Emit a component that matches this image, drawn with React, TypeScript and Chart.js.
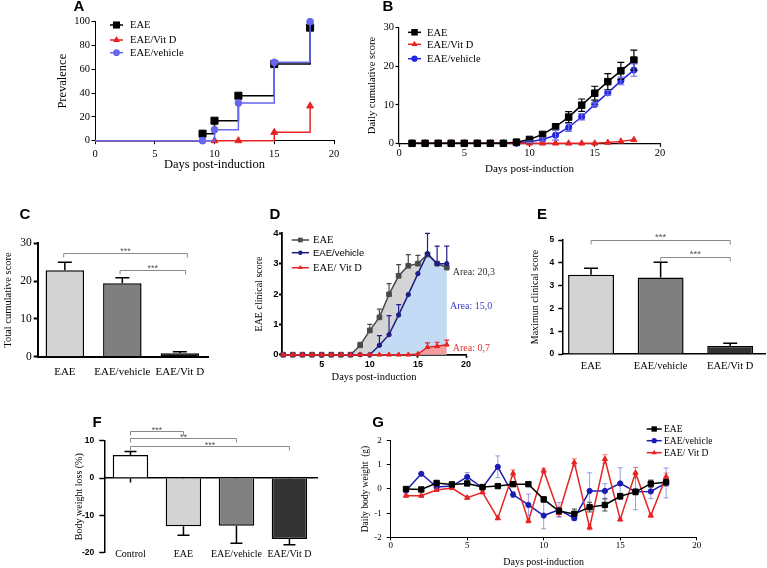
import React, { useEffect, useRef } from 'react';
import { Chart, registerables } from 'chart.js';

Chart.register(...registerables);

const SERIF = '"Liberation Serif", "Times New Roman", Times, serif';
const SANS = '"Liberation Sans", Arial, Helvetica, sans-serif';

// ================= DATA =================
// Panel A – prevalence (%)
const aEaeDays = [0, 9, 10, 12, 15, 18];
const aEaePrev = [0, 5.9, 16.8, 37.8, 64.4, 95];
const aVitDays = [0, 10, 12, 15, 18];
const aVitPrev = [0, 0, 0, 7, 29.2];
const aVehDays = [0, 9, 10, 12, 15, 18];
const aVehPrev = [0, 0, 9.2, 31.7, 65.9, 100];
const aXTicks = [0, 5, 10, 15, 20];
const aYTicks = [0, 20, 40, 60, 80, 100];
const abLegend = ['EAE', 'EAE/Vit D', 'EAE/vehicle'];

// Panel B – daily cumulative score
const days18 = [1, 2, 3, 4, 5, 6, 7, 8, 9, 10, 11, 12, 13, 14, 15, 16, 17, 18];
const bEae = [0, 0, 0, 0, 0, 0, 0, 0, 0.3, 1.0, 2.3, 4.3, 6.8, 9.9, 13.0, 16.0, 18.8, 21.6];
const bEaeErr = [0, 0, 0, 0, 0, 0, 0, 0, 0.1, 0.2, 0.4, 0.7, 1.4, 1.6, 1.8, 2.1, 2.2, 2.6];
const bVit = [0, 0, 0, 0, 0, 0, 0, 0, 0, 0, 0, 0, 0, 0, 0, 0.2, 0.5, 0.9];
const bVeh = [0, 0, 0, 0, 0, 0, 0, 0, 0, 0.4, 1.0, 2.1, 4.1, 6.9, 10.1, 13.1, 16.2, 19.0];
const bVehErr = [0, 0, 0, 0, 0, 0, 0, 0, 0, 0.2, 0.4, 1.3, 1.0, 0.8, 0.4, 0.6, 1.0, 1.6];
const bXTicks = [0, 5, 10, 15, 20];
const bYTicks = [0, 10, 20, 30];

// Panel C – total cumulative score
const cCategories = ['EAE', 'EAE/vehicle', 'EAE/Vit D'];
const cValues = [22.9, 19.4, 0.9];
const cErrors = [2.1, 1.5, 0.4];
const cYTicks = [0, 10, 20, 30];

// Panel D – EAE clinical score
const dLegend = ['EAE', 'EAE/vehicle', 'EAE/ Vit D'];
const dEae = [0, 0, 0, 0, 0, 0, 0, 0, 0.31, 0.8, 1.23, 1.99, 2.6, 2.93, 3.0, 3.3, 3.0, 2.87];
const dEaeErr = [0, 0, 0, 0, 0, 0, 0, 0, 0.1, 0.2, 0.27, 0.35, 0.37, 0.37, 0.27, 0, 0, 0];
const dVeh = [0, 0, 0, 0, 0, 0, 0, 0, 0, 0, 0.31, 0.66, 1.31, 1.98, 2.67, 3.33, 3.0, 3.0];
const dVehErr = [0, 0, 0, 0, 0, 0, 0, 0, 0, 0, 0.32, 0.63, 0.34, 0, 0, 0.67, 0.58, 0.58];
const dVit = [0, 0, 0, 0, 0, 0, 0, 0, 0, 0, 0, 0, 0, 0, 0.02, 0.25, 0.28, 0.33];
const dVitErr = [0, 0, 0, 0, 0, 0, 0, 0, 0, 0, 0, 0, 0, 0, 0, 0.14, 0.13, 0.15];
const dXTicks = [5, 10, 15, 20];
const dYTicks = [0, 1, 2, 3, 4];
const dAreas = ['Area: 20,3', 'Area: 15,0', 'Area: 0,7'];

// Panel E – maximum clinical score
const eValues = [3.48, 3.35, 0.35];
const eErrors = [0.28, 0.67, 0.12];
const eYTicks = [0, 1, 2, 3, 4, 5];

// Panel F – body weight loss (%)
const fCategories = ['Control', 'EAE', 'EAE/vehicle', 'EAE/Vit D'];
const fValues = [6.2, -12.9, -12.8, -16.3];
const fErrors = [0.9, 2.4, 4.7, 1.6];
const fYTicks = [-20, -10, 0, 10];

// Panel G – daily body weight (g)
const gEae = [0.0, -0.02, 0.25, 0.19, 0.23, 0.08, 0.12, 0.2, 0.2, -0.43, -0.91, -1.03, -0.75, -0.66, -0.3, -0.12, 0.22, 0.28];
const gEaeErr = [0.05, 0.05, 0.08, 0.06, 0.06, 0.05, 0.05, 0.06, 0.06, 0.1, 0.12, 0.2, 0.2, 0.25, 0.12, 0.12, 0.15, 0.15];
const gVeh = [-0.07, 0.63, 0.08, 0.12, 0.5, 0.05, 0.92, -0.23, -0.66, -1.1, -0.86, -1.21, -0.08, -0.08, 0.23, -0.11, -0.1, 0.25];
const gVehErr = [0.05, 0.05, 0.05, 0.05, 0.18, 0.08, 0.45, 0.12, 0.45, 0.55, 0.3, 0.1, 0.75, 0.3, 0.65, 0.75, 0.3, 0.62];
const gVit = [-0.28, -0.28, -0.04, 0.04, -0.36, -0.14, -1.21, 0.65, -1.32, 0.76, -1.0, 1.1, -1.59, 1.24, -1.26, 0.67, -1.1, 0.51];
const gVitErr = [0.04, 0.04, 0.04, 0.04, 0.06, 0.05, 0.06, 0.14, 0.08, 0.1, 0.15, 0.15, 0.1, 0.18, 0.06, 0.22, 0.06, 0.15];
const gXTicks = [0, 5, 10, 15, 20];
const gYTicks = [-2, -1, 0, 1, 2];

// significance labels
const sigC = ['***', '***'];
const sigE = ['***', '***'];
const sigF = ['***', '**', '***'];

// ================= HELPERS =================
type Box = { x: number; y: number; w: number; h: number };
type Plot = { l: number; t: number; r: number; b: number };

const pts = (xs: number[], ys: number[]) => xs.map((x, i) => ({ x, y: ys[i] }));
const idx = (arr: any[]) => arr.map((_, i) => i + 1);

function fits(box: Box, plot: Plot) {
  return {
    pad: { left: 0, top: plot.t - box.y, right: box.x + box.w - plot.r, bottom: 0 },
    fy: (s: any) => { s.width = plot.l - box.x; s.paddingTop = 0; s.paddingBottom = 0; },
    fx: (s: any) => { s.height = box.y + box.h - plot.b; s.paddingLeft = 0; s.paddingRight = 0; },
    f0: (s: any) => { s.paddingLeft = 0; s.paddingRight = 0; s.paddingTop = 0; s.paddingBottom = 0; },
  };
}

function axis(spec: any, fit: any) {
  return {
    type: 'linear',
    position: spec.position,
    min: spec.min,
    max: spec.max,
    offset: false,
    afterFit: fit,
    afterBuildTicks: (s: any) => { s.ticks = spec.ticks.map((value: number) => ({ value })); },
    grid: {
      display: true, offset: false, drawOnChartArea: false,
      drawTicks: spec.tickLen > 0, tickLength: spec.tickLen,
      tickColor: '#000', tickWidth: spec.bw,
    },
    border: { display: spec.border !== false, color: '#000', width: spec.bw },
    ticks: {
      display: spec.showLabels !== false,
      padding: spec.pad, color: '#000', autoSkip: false, maxRotation: 0, minRotation: 0,
      font: { family: spec.family, size: spec.size, weight: spec.bold ? 'bold' : 'normal' },
      callback: (v: any) => (spec.labels ? (spec.labels[Math.round(v) - 1] ?? '') : String(v)),
    },
    title: spec.title
      ? { display: true, text: spec.title, color: '#000', padding: 0, font: { family: SERIF, size: spec.titleSize } }
      : { display: false },
  };
}

function drawMarker(ctx: any, style: string, x: number, y: number, r: number) {
  ctx.beginPath();
  if (style === 'rect') {
    const s = r * Math.SQRT1_2;
    ctx.rect(x - s, y - s, 2 * s, 2 * s);
  } else if (style === 'triangle') {
    let a = 0;
    ctx.moveTo(x + Math.sin(a) * r, y - Math.cos(a) * r);
    a += (2 * Math.PI) / 3;
    ctx.lineTo(x + Math.sin(a) * r, y - Math.cos(a) * r);
    a += (2 * Math.PI) / 3;
    ctx.lineTo(x + Math.sin(a) * r, y - Math.cos(a) * r);
    ctx.closePath();
  } else {
    ctx.arc(x, y, r, 0, Math.PI * 2);
  }
  ctx.fill();
}

function drawErrors(chart: any) {
  const ctx = chart.ctx;
  chart.data.datasets.forEach((ds: any, di: number) => {
    if (!ds.errUp && !ds.errDown) return;
    const meta = chart.getDatasetMeta(di);
    const ys = chart.scales[meta.yAxisID];
    ctx.save();
    ctx.strokeStyle = ds.errColor || '#000';
    ctx.lineWidth = ds.errWidth || 1;
    const cap = (ds.errCap || 6) / 2;
    meta.data.forEach((el: any, i: number) => {
      const raw = ds.data[i];
      const v = typeof raw === 'number' ? raw : raw.y;
      const x = el.x;
      const y0 = ys.getPixelForValue(v);
      const parts = [[ds.errUp, 1], [ds.errDown, -1]];
      parts.forEach((p: any) => {
        const e = p[0] ? p[0][i] : 0;
        if (!e) return;
        const y1 = ys.getPixelForValue(v + p[1] * e);
        ctx.beginPath();
        ctx.moveTo(x, y0);
        ctx.lineTo(x, y1);
        ctx.moveTo(x - cap, y1);
        ctx.lineTo(x + cap, y1);
        ctx.stroke();
      });
    });
    ctx.restore();
  });
}

function decor(cfg: any) {
  return {
    id: 'decor',
    beforeDatasetsDraw(chart: any) { if (cfg.errBehind) drawErrors(chart); },
    afterDatasetsDraw(chart: any) { if (!cfg.errBehind) drawErrors(chart); },
    afterDraw(chart: any) {
      const ctx = chart.ctx;
      const ox = cfg.box.x;
      const oy = cfg.box.y;
      ctx.save();
      // panel letter
      ctx.fillStyle = '#000';
      ctx.font = `bold 15px ${SANS}`;
      ctx.textAlign = 'center';
      ctx.textBaseline = 'middle';
      ctx.fillText(cfg.letter.text, cfg.letter.x - ox, cfg.letter.y - oy);
      // legend
      if (cfg.legend) {
        const L = cfg.legend;
        L.items.forEach((it: any, i: number) => {
          const y = L.ys[i] - oy;
          ctx.strokeStyle = it.color;
          ctx.fillStyle = it.color;
          ctx.lineWidth = L.lw;
          ctx.beginPath();
          ctx.moveTo(L.x1 - ox, y);
          ctx.lineTo(L.x2 - ox, y);
          ctx.stroke();
          drawMarker(ctx, it.style, (L.x1 + L.x2) / 2 - ox, y, it.r);
          ctx.fillStyle = it.textColor || '#000';
          ctx.font = it.font;
          ctx.textAlign = 'left';
          ctx.textBaseline = 'middle';
          ctx.fillText(it.text, L.tx - ox, y + 0.5);
        });
      }
      // significance brackets
      if (cfg.brackets) {
        const xs = chart.scales.x;
        const ys = chart.scales.y;
        cfg.brackets.forEach((b: any) => {
          const x1 = xs.getPixelForValue(b.from);
          const x2 = xs.getPixelForValue(b.to);
          const y = Math.round(ys.getPixelForValue(b.y)) + 0.5;
          ctx.strokeStyle = '#8a8a8a';
          ctx.lineWidth = 1;
          ctx.beginPath();
          ctx.moveTo(x1, y + 4);
          ctx.lineTo(x1, y);
          ctx.lineTo(x2, y);
          ctx.lineTo(x2, y + 4);
          ctx.stroke();
          ctx.fillStyle = '#555';
          ctx.font = `${cfg.sigSize}px ${SANS}`;
          ctx.textAlign = 'center';
          ctx.textBaseline = 'alphabetic';
          ctx.fillText(b.label, (x1 + x2) / 2, y - cfg.sigDy + cfg.sigSize * 0.58);
        });
      }
      // free texts
      if (cfg.texts) {
        cfg.texts.forEach((t: any) => {
          ctx.fillStyle = t.color;
          ctx.font = t.font;
          ctx.textAlign = 'left';
          ctx.textBaseline = 'middle';
          ctx.fillText(t.text, t.x - ox, t.y - oy);
        });
      }
      ctx.restore();
    },
  };
}

function lineDs(label: string, xs: number[], ys: number[], color: string, style: string, r: number, extra: any = {}) {
  return {
    label,
    data: pts(xs, ys),
    borderColor: color,
    backgroundColor: color,
    pointBackgroundColor: color,
    pointBorderColor: color,
    pointBorderWidth: 1,
    borderWidth: 1.5,
    pointStyle: style,
    pointRadius: r,
    clip: false,
    fill: false,
    ...extra,
  };
}

function baseOptions(pad: any, scales: any, extraPlugins: any = {}) {
  return {
    responsive: false,
    animation: false,
    events: [],
    layout: { padding: pad },
    plugins: { legend: { display: false }, tooltip: { enabled: false }, ...extraPlugins },
    scales,
  };
}

// ================= PANELS =================
const RED = '#e52424';

const aBox: Box = { x: 55, y: 0, w: 315, h: 172 };
const aPlot: Plot = { l: 95, t: 21.7, r: 334, b: 140.7 };
function makeA() {
  const f = fits(aBox, aPlot);
  const first0 = (r: number) => (c: any) => (c.dataIndex === 0 ? 0 : r);
  const VEH = '#6666ee';
  return {
    type: 'line',
    data: {
      datasets: [
        lineDs(abLegend[2], aVehDays, aVehPrev, VEH, 'circle', 0, { stepped: 'before', pointRadius: first0(3.4) }),
        lineDs(abLegend[1], aVitDays, aVitPrev, RED, 'triangle', 0, { stepped: 'before', pointRadius: first0(4) }),
        lineDs(abLegend[0], aEaeDays, aEaePrev, '#000', 'rect', 0, { stepped: 'before', pointRadius: first0(5) }),
      ],
    },
    options: baseOptions(f.pad, {
      x: axis({ position: 'bottom', min: 0, max: 20, ticks: aXTicks, family: SERIF, size: 10.5, tickLen: 3.5, pad: 3.5, bw: 1, title: 'Days post-induction', titleSize: 12.5 }, f.fx),
      y: axis({ position: 'left', min: 0, max: 100, ticks: aYTicks, family: SERIF, size: 10.5, tickLen: 3.5, pad: 1.5, bw: 1, title: 'Prevalence', titleSize: 12.5 }, f.fy),
    }),
    plugins: [decor({
      box: aBox,
      letter: { text: 'A', x: 79, y: 7 },
      legend: {
        x1: 110, x2: 123, tx: 130, ys: [25, 40, 52.7], lw: 1.5,
        items: [
          { text: abLegend[0], color: '#000', style: 'rect', r: 5, font: `10.5px ${SERIF}` },
          { text: abLegend[1], color: RED, style: 'triangle', r: 4, font: `10.5px ${SERIF}` },
          { text: abLegend[2], color: VEH, style: 'circle', r: 3.4, font: `10.5px ${SERIF}` },
        ],
      },
    })],
  };
}

const bBox: Box = { x: 366, y: 0, w: 334, h: 176 };
const bPlot: Plot = { l: 399, t: 27.7, r: 660, b: 143.3 };
function makeB() {
  const f = fits(bBox, bPlot);
  const VEH = '#2424e0';
  return {
    type: 'line',
    data: {
      datasets: [
        lineDs(abLegend[0], days18, bEae, '#000', 'rect', 4.6, { errUp: bEaeErr, errDown: bEaeErr, errColor: '#000', errWidth: 1.2, errCap: 7 }),
        lineDs(abLegend[1], days18, bVit, RED, 'triangle', 3.5),
        lineDs(abLegend[2], days18, bVeh, VEH, 'circle', 3.1, { errUp: bVehErr, errDown: bVehErr, errColor: '#6f6fe6', errWidth: 1.2, errCap: 7 }),
      ],
    },
    options: baseOptions(f.pad, {
      x: axis({ position: 'bottom', min: 0, max: 20, ticks: bXTicks, family: SERIF, size: 10.5, tickLen: 3.5, pad: 0.5, bw: 1.2, title: 'Days post-induction', titleSize: 11 }, f.fx),
      y: axis({ position: 'left', min: 0, max: 30, ticks: bYTicks, family: SERIF, size: 10.5, tickLen: 3.5, pad: 1.5, bw: 1.2, title: 'Daily cumulative score', titleSize: 10.5 }, f.fy),
    }),
    plugins: [decor({
      box: bBox,
      letter: { text: 'B', x: 388, y: 7 },
      legend: {
        x1: 408, x2: 421, tx: 427, ys: [32.3, 44.3, 58.7], lw: 1.5,
        items: [
          { text: abLegend[0], color: '#000', style: 'rect', r: 4.6, font: `10.5px ${SERIF}` },
          { text: abLegend[1], color: RED, style: 'triangle', r: 3.5, font: `10.5px ${SERIF}` },
          { text: abLegend[2], color: VEH, style: 'circle', r: 3.1, font: `10.5px ${SERIF}` },
        ],
      },
    })],
  };
}

const cBox: Box = { x: 2, y: 200, w: 228, h: 185 };
const cPlot: Plot = { l: 38, t: 243.3, r: 208, b: 356.7 };
function makeC() {
  const f = fits(cBox, cPlot);
  return {
    type: 'bar',
    data: {
      datasets: [{
        label: 'Total cumulative score',
        data: pts(idx(cCategories), cValues),
        backgroundColor: ['#d3d3d3', '#7f7f7f', '#111111'],
        borderColor: '#000', borderWidth: 1.5,
        barPercentage: 0.67, categoryPercentage: 1,
        errUp: cErrors, errColor: '#000', errWidth: 1.5, errCap: 14,
      }],
    },
    options: baseOptions(f.pad, {
      x: axis({ position: 'bottom', min: 0.533, max: 3.49, ticks: [1, 2, 3], labels: cCategories, family: SERIF, size: 11, tickLen: 0, pad: 8.5, bw: 2 }, f.fx),
      y: axis({ position: 'left', min: 0, max: 30, ticks: cYTicks, family: SERIF, size: 11.5, tickLen: 4.3, pad: 2, bw: 2, title: 'Total cumulative score', titleSize: 10.5 }, f.fy),
    }),
    plugins: [decor({
      box: cBox,
      letter: { text: 'C', x: 25, y: 215 },
      brackets: [
        { from: 0.98, to: 3.13, y: 27.4, label: sigC[0] },
        { from: 1.96, to: 3.1, y: 22.9, label: sigC[1] },
      ],
      sigSize: 9, sigDy: 4.5,
    })],
  };
}

const dBox: Box = { x: 253, y: 200, w: 257, h: 184 };
const dPlot: Plot = { l: 282, t: 233.3, r: 466, b: 354.7 };
function makeD() {
  const f = fits(dBox, dPlot);
  const EAE = '#4a4a4a';
  const VEH = '#1e1e86';
  return {
    type: 'line',
    data: {
      datasets: [
        lineDs(dLegend[2], days18, dVit, RED, 'triangle', 2.8, { fill: 'origin', backgroundColor: '#f59c9c', errUp: dVitErr, errColor: RED, errWidth: 1.2, errCap: 5 }),
        lineDs(dLegend[1], days18, dVeh, VEH, 'circle', 2.2, { fill: 'origin', backgroundColor: '#c4dbf5', errUp: dVehErr, errColor: VEH, errWidth: 1.2, errCap: 5 }),
        lineDs(dLegend[0], days18, dEae, EAE, 'rect', 3.3, { fill: 'origin', backgroundColor: '#d4d4d4', errUp: dEaeErr, errColor: EAE, errWidth: 1.2, errCap: 5 }),
      ],
    },
    options: baseOptions(f.pad, {
      x: axis({ position: 'bottom', min: 0.875, max: 20, ticks: dXTicks, family: SANS, bold: true, size: 9, tickLen: 3, pad: 1, bw: 1.8, title: 'Days post-induction', titleSize: 10.5 }, f.fx),
      y: axis({ position: 'left', min: 0, max: 4, ticks: dYTicks, family: SANS, bold: true, size: 9.5, tickLen: 3, pad: 0.5, bw: 1.8, title: 'EAE clinical score', titleSize: 10 }, f.fy),
    }, { filler: { drawTime: 'beforeDatasetsDraw' } }),
    plugins: [decor({
      box: dBox,
      letter: { text: 'D', x: 275, y: 215 },
      legend: {
        x1: 291.7, x2: 309, tx: 313, ys: [240, 252.7, 267.7], lw: 1.5,
        items: [
          { text: dLegend[0], color: EAE, style: 'rect', r: 3.3, font: `10.5px ${SERIF}` },
          { text: dLegend[1], color: VEH, style: 'circle', r: 2.2, font: `9.5px ${SANS}` },
          { text: dLegend[2], color: RED, style: 'triangle', r: 2.8, font: `10.5px ${SERIF}` },
        ],
      },
      texts: [
        { text: dAreas[0], x: 452.7, y: 272, color: '#333', font: `10px ${SERIF}` },
        { text: dAreas[1], x: 450, y: 306.7, color: '#3a3ac8', font: `10px ${SERIF}` },
        { text: dAreas[2], x: 452.7, y: 348, color: '#e03030', font: `10px ${SERIF}` },
      ],
    })],
  };
}

const eBox: Box = { x: 529, y: 200, w: 238, h: 185 };
const ePlot: Plot = { l: 562.3, t: 240, r: 765, b: 354 };
function makeE() {
  const f = fits(eBox, ePlot);
  return {
    type: 'bar',
    data: {
      datasets: [{
        label: 'Maximun clinical score',
        data: pts(idx(cCategories), eValues),
        backgroundColor: ['#d3d3d3', '#7f7f7f', '#333333'],
        borderColor: '#000', borderWidth: 1.5,
        barPercentage: 0.66, categoryPercentage: 1,
        errUp: eErrors, errColor: '#000', errWidth: 1.5, errCap: 14,
      }],
    },
    options: baseOptions(f.pad, {
      x: axis({ position: 'bottom', min: 0.587, max: 3.5, ticks: [1, 2, 3], labels: cCategories, family: SERIF, size: 10.5, tickLen: 0, pad: 5.5, bw: 1.5 }, f.fx),
      y: axis({ position: 'left', min: 0, max: 5, ticks: eYTicks, family: SANS, bold: true, size: 8.5, tickLen: 4, pad: 4, bw: 1.5, title: 'Maximun clinical score', titleSize: 10 }, f.fy),
    }),
    plugins: [decor({
      box: eBox,
      letter: { text: 'E', x: 542, y: 215 },
      brackets: [
        { from: 1, to: 3, y: 5.0, label: sigE[0] },
        { from: 2, to: 3, y: 4.24, label: sigE[1] },
      ],
      sigSize: 9.5, sigDy: 6.5,
    })],
  };
}

const fBox: Box = { x: 73, y: 400, w: 257, h: 168 };
const fPlot: Plot = { l: 104.3, t: 440.7, r: 317, b: 552.7 };
function makeF() {
  const f = fits(fBox, fPlot);
  const pad = { ...f.pad, bottom: fBox.y + fBox.h - fPlot.b };
  return {
    type: 'bar',
    data: {
      datasets: [{
        label: 'Body weight loss (%)',
        xAxisID: 'x',
        yAxisID: 'y',
        data: pts(idx(fCategories), fValues),
        backgroundColor: ['#ffffff', '#d3d3d3', '#808080', '#333333'],
        borderColor: '#000', borderWidth: 1.5,
        barPercentage: 0.67, categoryPercentage: 1,
        errUp: fValues.map((v, i) => (v >= 0 ? fErrors[i] : 0)),
        errDown: fValues.map((v, i) => (v < 0 ? fErrors[i] : 0)),
        errColor: '#000', errWidth: 1.5, errCap: 12,
      }],
    },
    options: baseOptions(pad, {
      x: axis({ position: { y: 0 }, min: 0.506, max: 4.52, ticks: [1, 2, 3, 4], showLabels: false, family: SERIF, size: 10, tickLen: 4, pad: 0, bw: 1.5 }, f.f0),
      x2: axis({ position: { y: -20 }, min: 0.506, max: 4.52, ticks: [1, 2, 3, 4], labels: fCategories, border: false, family: SERIF, size: 10, tickLen: 0, pad: -4.7, bw: 1 }, f.f0),
      y: axis({ position: 'left', min: -20, max: 10, ticks: fYTicks, family: SANS, bold: true, size: 8.5, tickLen: 5, pad: 5, bw: 1.5, title: 'Body weight loss (%)', titleSize: 10 }, f.fy),
    }),
    plugins: [decor({
      box: fBox,
      letter: { text: 'F', x: 97, y: 423 },
      brackets: [
        { from: 1, to: 2, y: 12.7, label: sigF[0] },
        { from: 1, to: 3, y: 10.6, label: sigF[1] },
        { from: 1, to: 4, y: 8.6, label: sigF[2] },
      ],
      sigSize: 9, sigDy: 4,
    })],
  };
}

const gBox: Box = { x: 360, y: 410, w: 407, h: 158 };
const gPlot: Plot = { l: 390.7, t: 440.7, r: 696.7, b: 537.3 };
function makeG() {
  const f = fits(gBox, gPlot);
  const VEH = '#1c1cb4';
  return {
    type: 'line',
    data: {
      datasets: [
        lineDs(dLegend[0], days18, gEae, '#000', 'rect', 3.8, { errUp: gEaeErr, errDown: gEaeErr, errColor: '#444', errWidth: 1, errCap: 5 }),
        lineDs(dLegend[2], days18, gVit, RED, 'triangle', 3, { errUp: gVitErr, errDown: gVitErr, errColor: 'rgba(229,36,36,0.6)', errWidth: 1, errCap: 5 }),
        lineDs(dLegend[1], days18, gVeh, VEH, 'circle', 2.6, { errUp: gVehErr, errDown: gVehErr, errColor: 'rgba(60,60,200,0.5)', errWidth: 1, errCap: 5 }),
      ],
    },
    options: baseOptions(f.pad, {
      x: axis({ position: 'bottom', min: 0, max: 20, ticks: gXTicks, family: SERIF, size: 9, tickLen: 3, pad: 0, bw: 1, title: 'Days post-induction', titleSize: 10 }, f.fx),
      y: axis({ position: 'left', min: -2, max: 2, ticks: gYTicks, family: SERIF, size: 9, tickLen: 4, pad: 5, bw: 1, title: 'Daily body weight  (g)', titleSize: 9.5 }, f.fy),
    }),
    plugins: [decor({
      box: gBox,
      errBehind: true,
      letter: { text: 'G', x: 378, y: 423 },
      legend: {
        x1: 646.7, x2: 661.7, tx: 664, ys: [429, 440.7, 452.7], lw: 1.5,
        items: [
          { text: dLegend[0], color: '#000', style: 'rect', r: 3.8, font: `9.5px ${SERIF}` },
          { text: dLegend[1], color: VEH, style: 'circle', r: 2.6, font: `9.5px ${SERIF}` },
          { text: dLegend[2], color: RED, style: 'triangle', r: 3, font: `9.5px ${SERIF}` },
        ],
      },
    })],
  };
}

const PANELS = [
  { box: aBox, make: makeA },
  { box: bBox, make: makeB },
  { box: cBox, make: makeC },
  { box: dBox, make: makeD },
  { box: eBox, make: makeE },
  { box: fBox, make: makeF },
  { box: gBox, make: makeG },
];

export default function App() {
  const refs = useRef<(HTMLCanvasElement | null)[]>([]);
  useEffect(() => {
    const charts: Chart[] = [];
    PANELS.forEach((p, i) => {
      const el = refs.current[i];
      if (el) charts.push(new Chart(el, p.make() as any));
    });
    return () => charts.forEach((c) => c.destroy());
  }, []);
  return (
    <div style={{ position: 'fixed', left: 0, top: 0, width: 767, height: 568, background: '#fff', overflow: 'hidden' }}>
      {PANELS.map((p, i) => (
        <canvas
          key={i}
          ref={(el) => { refs.current[i] = el; }}
          width={p.box.w}
          height={p.box.h}
          style={{ position: 'absolute', left: p.box.x, top: p.box.y, width: p.box.w, height: p.box.h }}
        />
      ))}
    </div>
  );
}
